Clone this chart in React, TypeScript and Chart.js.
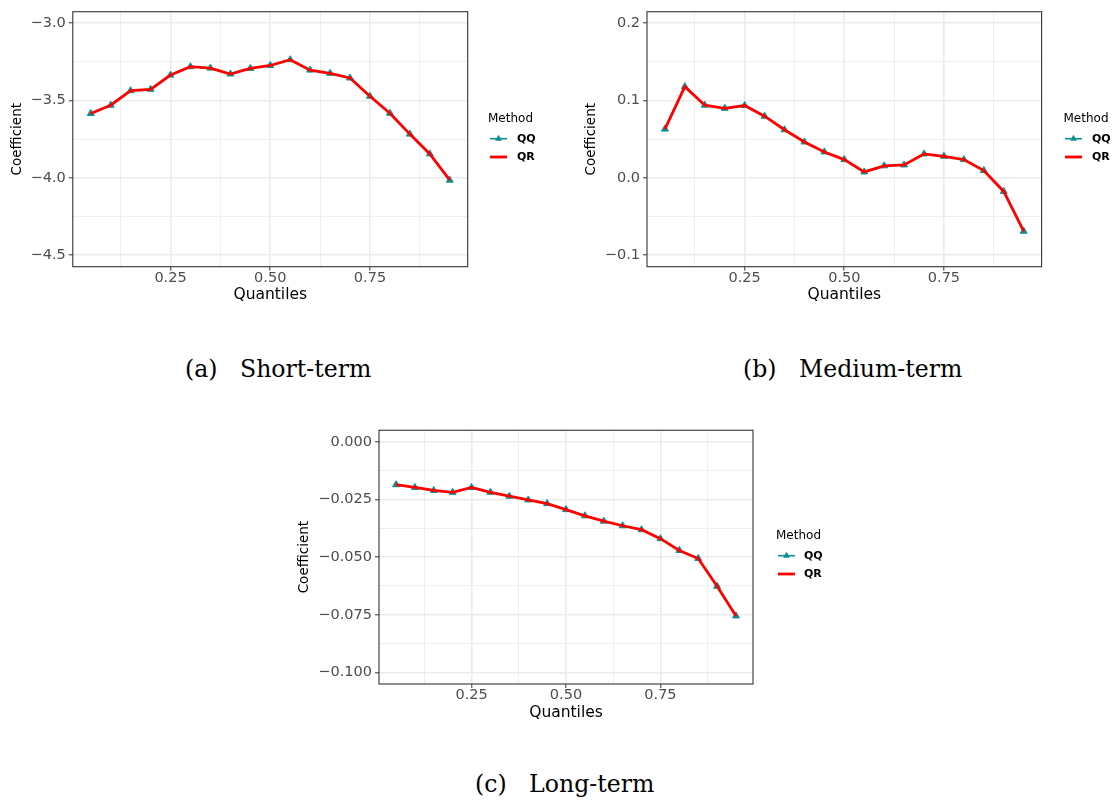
import React, { useEffect, useRef } from 'react';
import { Chart, registerables } from 'chart.js';

Chart.register(...registerables);

// ---------- data ----------
const quantiles = [0.05, 0.1, 0.15, 0.2, 0.25, 0.3, 0.35, 0.4, 0.45, 0.5, 0.55, 0.6, 0.65, 0.7, 0.75, 0.8, 0.85, 0.9, 0.95];

const qqShort = [-3.584, -3.530, -3.436, -3.427, -3.335, -3.281, -3.290, -3.328, -3.292, -3.273, -3.236, -3.303, -3.324, -3.354, -3.472, -3.582, -3.717, -3.845, -4.015];
const qrShort = [-3.584, -3.530, -3.436, -3.427, -3.335, -3.281, -3.290, -3.328, -3.292, -3.273, -3.236, -3.303, -3.324, -3.354, -3.472, -3.582, -3.717, -3.845, -4.015];

const qqMedium = [0.0631, 0.118, 0.094, 0.090, 0.0936, 0.0798, 0.0622, 0.0464, 0.0335, 0.0236, 0.0077, 0.0155, 0.0167, 0.0309, 0.0279, 0.0236, 0.0094, -0.0176, -0.0691];
const qrMedium = [0.0631, 0.118, 0.094, 0.090, 0.0936, 0.0798, 0.0622, 0.0464, 0.0335, 0.0236, 0.0077, 0.0155, 0.0167, 0.0309, 0.0279, 0.0236, 0.0094, -0.0176, -0.0691];

const qqLong = [-0.0186, -0.0198, -0.0211, -0.0219, -0.0198, -0.0219, -0.0236, -0.0252, -0.0268, -0.0294, -0.0321, -0.0344, -0.0364, -0.0381, -0.0420, -0.0471, -0.0506, -0.0626, -0.0755];
const qrLong = [-0.0186, -0.0198, -0.0211, -0.0219, -0.0198, -0.0219, -0.0236, -0.0252, -0.0268, -0.0294, -0.0321, -0.0344, -0.0364, -0.0381, -0.0420, -0.0471, -0.0506, -0.0626, -0.0755];

const xMajorTicks = [0.25, 0.5, 0.75];
const xMinorTicks = [0.125, 0.375, 0.625, 0.875];

const yMajorShort = [-4.5, -4.0, -3.5, -3.0];
const yMinorShort = [-4.25, -3.75, -3.25];
const yMajorMedium = [-0.1, 0.0, 0.1, 0.2];
const yMinorMedium = [-0.05, 0.05, 0.15];
const yMajorLong = [-0.1, -0.075, -0.05, -0.025, 0.0];
const yMinorLong = [-0.0875, -0.0625, -0.0375, -0.0125];

const legendTitle = 'Method';
const seriesNames = ['QQ', 'QR'];
const xTitle = 'Quantiles';
const yTitle = 'Coefficient';

// ---------- styles ----------
const TEAL = '#0d8f8f';
const RED = '#ff0000';
const GRID = '#ebebeb';
const SANS = '"DejaVu Sans", sans-serif';

type Spec = {
  caption: string;
  captionLeft: number;
  captionCenterY: number;
  canvas: { left: number; top: number; w: number; h: number };
  plot: { left: number; top: number; right: number; bottom: number };
  yTitleX: number;
  xTitleY: number;
  qq: number[];
  qr: number[];
  yMajor: number[];
  yMinor: number[];
  yDecimals: number;
  legend: { titleX: number; titleY: number; keyX: number; keyW: number; textX: number; rows: number[] };
};

const specs: Spec[] = [
  {
    caption: '(a)   Short-term',
    captionLeft: 185,
    captionCenterY: 369,
    canvas: { left: 0, top: 0, w: 560, h: 320 },
    plot: { left: 72.8, top: 11.7, right: 467.7, bottom: 266.7 },
    yTitleX: 17,
    xTitleY: 295,
    qq: qqShort,
    qr: qrShort,
    yMajor: yMajorShort,
    yMinor: yMinorShort,
    yDecimals: 1,
    legend: { titleX: 488, titleY: 118.5, keyX: 490, keyW: 17, textX: 517, rows: [138.7, 157] },
  },
  {
    caption: '(b)   Medium-term',
    captionLeft: 743,
    captionCenterY: 369,
    canvas: { left: 560, top: 0, w: 553, h: 320 },
    plot: { left: 647, top: 11.7, right: 1041.6, bottom: 266.7 },
    yTitleX: 591,
    xTitleY: 295,
    qq: qqMedium,
    qr: qrMedium,
    yMajor: yMajorMedium,
    yMinor: yMinorMedium,
    yDecimals: 1,
    legend: { titleX: 1063.5, titleY: 118.5, keyX: 1065, keyW: 17, textX: 1092, rows: [138.7, 157] },
  },
  {
    caption: '(c)   Long-term',
    captionLeft: 475,
    captionCenterY: 784,
    canvas: { left: 280, top: 420, w: 560, h: 320 },
    plot: { left: 379, top: 428.3, right: 753, bottom: 684 },
    yTitleX: 304.5,
    xTitleY: 712.7,
    qq: qqLong,
    qr: qrLong,
    yMajor: yMajorLong,
    yMinor: yMinorLong,
    yDecimals: 3,
    legend: { titleX: 776, titleY: 535.7, keyX: 778, keyW: 17, textX: 804, rows: [555.7, 574] },
  },
];

const fmt = (v: number, d: number) => {
  const s = Math.abs(v).toFixed(d);
  return v < -1e-9 ? '\u2212' + s : s;
};

const panelBorderPlugin = {
  id: 'panelBorder',
  afterDatasetsDraw(chart: any) {
    const { ctx, chartArea } = chart;
    ctx.save();
    ctx.strokeStyle = '#333333';
    ctx.lineWidth = 1.1;
    ctx.strokeRect(chartArea.left, chartArea.top, chartArea.right - chartArea.left, chartArea.bottom - chartArea.top);
    ctx.restore();
  },
};

const methodLegendPlugin = {
  id: 'methodLegend',
  afterDraw(chart: any, _args: any, opts: any) {
    const { ctx } = chart;
    const L = opts.layout;
    const ox = opts.ox;
    const oy = opts.oy;
    ctx.save();
    ctx.textBaseline = 'middle';
    ctx.textAlign = 'left';
    ctx.fillStyle = '#000000';
    ctx.font = '12px ' + SANS;
    ctx.fillText(legendTitle, L.titleX - ox, L.titleY - oy);
    const ds = chart.data.datasets;
    const byLabel = (name: string) => ds.find((d: any) => d.label === name);
    seriesNames.forEach((name, i) => {
      const d = byLabel(name);
      const y = L.rows[i] - oy;
      const x0 = L.keyX - ox;
      const x1 = x0 + L.keyW;
      ctx.strokeStyle = d.borderColor;
      ctx.lineWidth = name === 'QR' ? 2.8 : 1.6;
      ctx.beginPath();
      ctx.moveTo(x0, y);
      ctx.lineTo(x1, y);
      ctx.stroke();
      if (d.pointRadius > 0) {
        const r = 4;
        const cx = (x0 + x1) / 2;
        ctx.fillStyle = d.borderColor;
        ctx.beginPath();
        ctx.moveTo(cx, y - r);
        ctx.lineTo(cx + r * 0.866, y + r * 0.5);
        ctx.lineTo(cx - r * 0.866, y + r * 0.5);
        ctx.closePath();
        ctx.fill();
      }
      ctx.fillStyle = '#000000';
      ctx.font = 'bold 11px ' + SANS;
      ctx.fillText(name, L.textX - ox, y);
    });
    ctx.restore();
  },
};

function Panel({ spec }: { spec: Spec }) {
  const ref = useRef<HTMLCanvasElement | null>(null);
  const c = spec.canvas;

  useEffect(() => {
    const s = spec;
    const xTitleSize = 15.5;
    const yTitleSize = 13.5;
    const tickSize = 14.5;
    const xH = s.xTitleY - s.plot.bottom + (xTitleSize * 1.2) / 2;
    const padBottom = c.top + c.h - s.plot.bottom - xH;
    const yW = s.plot.left - c.left;
    const yTitlePad = s.yTitleX - c.left - (yTitleSize * 1.2) / 2;

    const yRange = s.yMajor[s.yMajor.length - 1] - s.yMajor[0];
    const yMin = s.yMajor[0] - 0.05 * yRange;
    const yMax = s.yMajor[s.yMajor.length - 1] + 0.05 * yRange;
    const xRange = quantiles[quantiles.length - 1] - quantiles[0];
    const xMin = quantiles[0] - 0.05 * xRange;
    const xMax = quantiles[quantiles.length - 1] + 0.05 * xRange;

    const isMajor = (arr: number[], v: number) => arr.some((m) => Math.abs(m - v) < 1e-9);

    const chart = new Chart(ref.current as HTMLCanvasElement, {
      type: 'line',
      data: {
        datasets: [
          {
            label: 'QR',
            data: quantiles.map((q, i) => ({ x: q, y: s.qr[i] })),
            borderColor: RED,
            backgroundColor: RED,
            borderWidth: 2.8,
            pointRadius: 0,
            tension: 0,
            order: 0,
          },
          {
            label: 'QQ',
            data: quantiles.map((q, i) => ({ x: q, y: s.qq[i] })),
            borderColor: TEAL,
            backgroundColor: TEAL,
            borderWidth: 1.5,
            pointStyle: 'triangle',
            pointRadius: 4,
            pointBackgroundColor: TEAL,
            pointBorderColor: TEAL,
            pointBorderWidth: 1,
            tension: 0,
            order: 1,
          },
        ],
      },
      options: {
        responsive: false,
        animation: false,
        events: [],
        layout: {
          padding: {
            left: 0,
            top: s.plot.top - c.top,
            right: c.left + c.w - s.plot.right,
            bottom: padBottom,
          },
        },
        plugins: {
          legend: { display: false },
          tooltip: { enabled: false },
          methodLegend: { layout: s.legend, ox: c.left, oy: c.top },
        } as any,
        scales: {
          x: {
            type: 'linear',
            min: xMin,
            max: xMax,
            afterBuildTicks: (sc: any) => {
              sc.ticks = [...xMajorTicks, ...xMinorTicks].sort((a, b) => a - b).map((v) => ({ value: v }));
            },
            afterFit: (sc: any) => {
              sc.height = xH;
            },
            ticks: {
              autoSkip: false,
              maxRotation: 0,
              minRotation: 0,
              padding: 0,
              color: '#4d4d4d',
              font: { family: SANS, size: tickSize, lineHeight: 1 },
              callback: (v: any) => (isMajor(xMajorTicks, Number(v)) ? Number(v).toFixed(2) : ''),
            },
            grid: {
              color: GRID,
              lineWidth: (ctx: any) => (isMajor(xMajorTicks, ctx.tick?.value) ? 1.6 : 0.8),
              tickLength: 4,
              tickWidth: 1,
              tickColor: (ctx: any) => (isMajor(xMajorTicks, ctx.tick?.value) ? '#333333' : 'rgba(0,0,0,0)'),
              drawTicks: true,
            },
            border: { display: false },
            title: {
              display: true,
              text: xTitle,
              color: '#000000',
              font: { family: SANS, size: xTitleSize, lineHeight: 1.2 },
              padding: { top: 0, bottom: 0 },
            },
          },
          y: {
            type: 'linear',
            min: yMin,
            max: yMax,
            afterBuildTicks: (sc: any) => {
              sc.ticks = [...s.yMajor, ...s.yMinor].sort((a, b) => a - b).map((v) => ({ value: v }));
            },
            afterFit: (sc: any) => {
              sc.width = yW;
            },
            ticks: {
              autoSkip: false,
              padding: 3,
              color: '#4d4d4d',
              font: { family: SANS, size: tickSize, lineHeight: 1 },
              callback: (v: any) => (isMajor(s.yMajor, Number(v)) ? fmt(Number(v), s.yDecimals) : ''),
            },
            grid: {
              color: GRID,
              lineWidth: (ctx: any) => (isMajor(s.yMajor, ctx.tick?.value) ? 1.6 : 0.8),
              tickLength: 4,
              tickWidth: 1,
              tickColor: (ctx: any) => (isMajor(s.yMajor, ctx.tick?.value) ? '#333333' : 'rgba(0,0,0,0)'),
              drawTicks: true,
            },
            border: { display: false },
            title: {
              display: true,
              text: yTitle,
              color: '#000000',
              font: { family: SANS, size: yTitleSize, lineHeight: 1.2 },
              padding: { top: yTitlePad, bottom: 0 },
            },
          },
        },
      },
      plugins: [panelBorderPlugin, methodLegendPlugin],
    });
    return () => chart.destroy();
  }, []);

  return (
    <canvas
      ref={ref}
      width={c.w}
      height={c.h}
      style={{ position: 'absolute', left: c.left, top: c.top, width: c.w, height: c.h }}
    />
  );
}

export default function App() {
  return (
    <div style={{ position: 'absolute', left: 0, top: 0, width: 1113, height: 801, background: '#ffffff', overflow: 'hidden' }}>
      {specs.map((s, i) => (
        <Panel key={i} spec={s} />
      ))}
      {specs.map((s, i) => (
        <div
          key={'cap' + i}
          style={{
            position: 'absolute',
            left: s.captionLeft,
            top: s.captionCenterY - 14,
            height: 28,
            lineHeight: '28px',
            fontFamily: '"DejaVu Serif", serif',
            fontSize: 23.6,
            color: '#000000',
            whiteSpace: 'pre',
          }}
        >
          {s.caption}
        </div>
      ))}
    </div>
  );
}
